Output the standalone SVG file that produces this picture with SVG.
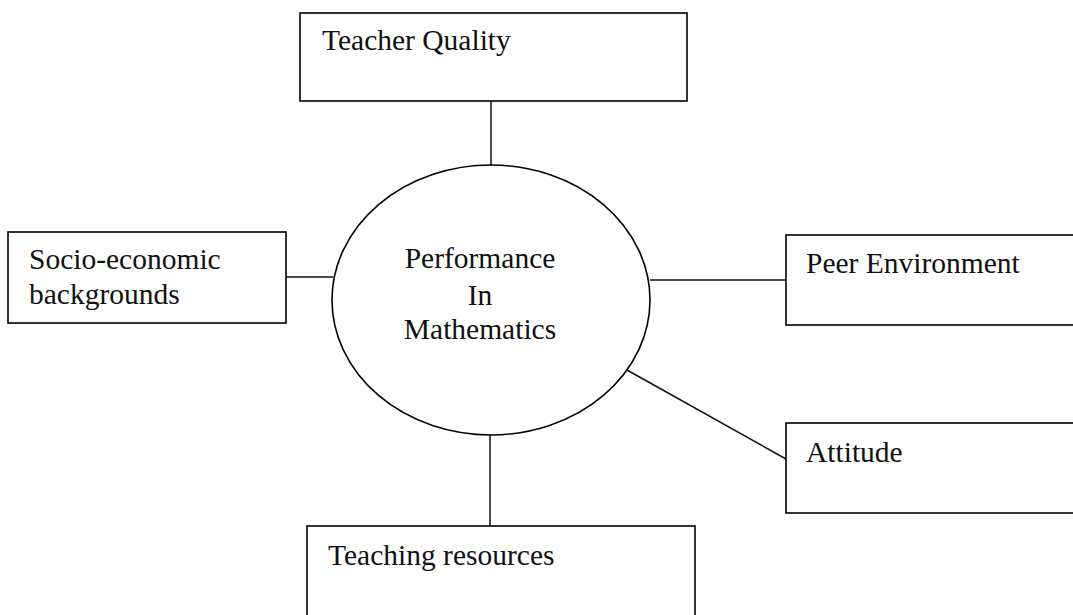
<svg xmlns="http://www.w3.org/2000/svg" width="1073" height="615" viewBox="0 0 1073 615">
<style>
.box{fill:#fff;stroke:#000;stroke-width:1.6}
.lbl{font-family:"Liberation Serif","Times New Roman",serif;font-size:29.5px;fill:#111}
.mid{text-anchor:middle}
.conn line{stroke:#111;stroke-width:1.5}
</style>
<rect width="1073" height="615" fill="#fff"/>
<g class="conn" id="connectors">
<line x1="491" y1="101" x2="491" y2="165"/>
<line x1="286" y1="277" x2="333" y2="277"/>
<line x1="650" y1="280" x2="786" y2="280"/>
<line x1="627" y1="370" x2="786" y2="459"/>
<line x1="490" y1="435" x2="490" y2="526"/>
</g>
<g id="teacher-quality">
<rect class="box" x="300" y="13" width="387" height="88"/>
<text class="lbl" x="322" y="50">Teacher Quality</text>
</g>
<g id="socio-economic">
<rect class="box" x="8" y="232" width="278" height="91"/>
<text class="lbl" x="29" y="269">Socio-economic</text>
<text class="lbl" x="29" y="304">backgrounds</text>
</g>
<g id="performance">
<ellipse class="box" cx="491" cy="300" rx="159" ry="135"/>
<text class="lbl mid" x="480" y="268">Performance</text>
<text class="lbl mid" x="480" y="305">In</text>
<text class="lbl mid" x="480" y="339">Mathematics</text>
</g>
<g id="peer-environment">
<rect class="box" x="786" y="235" width="300" height="90"/>
<text class="lbl" x="806" y="273">Peer Environment</text>
</g>
<g id="attitude">
<rect class="box" x="786" y="423" width="300" height="90"/>
<text class="lbl" x="806" y="462">Attitude</text>
</g>
<g id="teaching-resources">
<rect class="box" x="307" y="526" width="388" height="100"/>
<text class="lbl" x="328" y="565">Teaching resources</text>
</g>
</svg>
